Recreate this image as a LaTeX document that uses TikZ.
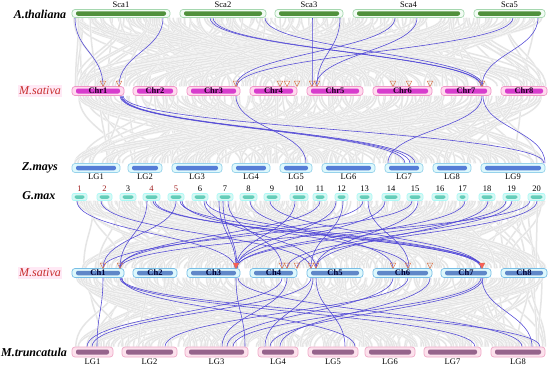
\documentclass[tikz,border=0pt]{standalone}
\usepackage{fontspec}
\setmainfont{Liberation Serif}
\usetikzlibrary{backgrounds}
\definecolor{athgreen}{RGB}{80, 145, 60}
\definecolor{athfill}{RGB}{242, 252, 244}
\definecolor{athedge}{RGB}{165, 215, 175}
\definecolor{msamag}{RGB}{215, 60, 205}
\definecolor{msafill}{RGB}{255, 218, 238}
\definecolor{msaedge}{RGB}{240, 150, 200}
\definecolor{zmblue}{RGB}{85, 125, 215}
\definecolor{cyanfill}{RGB}{222, 248, 252}
\definecolor{cyanedge}{RGB}{150, 210, 235}
\definecolor{gmteal}{RGB}{100, 205, 185}
\definecolor{gmfill}{RGB}{215, 248, 244}
\definecolor{chblue}{RGB}{95, 135, 200}
\definecolor{chedge}{RGB}{120, 190, 230}
\definecolor{mtmauve}{RGB}{150, 100, 140}
\definecolor{mtfill}{RGB}{252, 225, 236}
\definecolor{mtedge}{RGB}{240, 170, 200}
\definecolor{linkblue}{RGB}{80, 70, 215}
\definecolor{markorange}{RGB}{215, 120, 80}
\definecolor{spred}{RGB}{200, 45, 45}
\definecolor{numred}{RGB}{160, 30, 30}
\tikzset{
    chrbox/.style={draw, rectangle, rounded corners=3pt, inner sep=0pt, line width=0.7pt},
    chrbar/.style={rectangle, rounded corners=2pt, inner sep=0pt, minimum height=4.5pt},
    athchr/.style={chrbox, fill=athfill, draw=athedge, minimum height=8pt},
    athbar/.style={chrbar, fill=athgreen},
    msachr/.style={chrbox, fill=msafill, draw=msaedge, minimum height=9pt},
    msabar/.style={chrbar, fill=msamag, minimum height=5pt},
    zmchr/.style={chrbox, fill=cyanfill, draw=cyanedge, minimum height=9pt},
    zmbar/.style={chrbar, fill=zmblue},
    gmchr/.style={chrbox, fill=gmfill, draw=gmfill!80!cyan, minimum height=7pt, rounded corners=2pt},
    gmbar/.style={chrbar, fill=gmteal, minimum height=3.5pt},
    chchr/.style={chrbox, fill=cyanfill, draw=chedge, minimum height=9pt},
    chbar/.style={chrbar, fill=chblue},
    mtchr/.style={chrbox, fill=mtfill, draw=mtedge, minimum height=10pt},
    mtbar/.style={chrbar, fill=mtmauve, minimum height=5pt},
    chrname/.style={font=\fontsize{8.5}{9}\selectfont, text=black, inner sep=1pt},
    inname/.style={font=\fontsize{8.5}{9}\selectfont\bfseries, text=black!75!violet, inner sep=0pt},
    species/.style={font=\fontsize{12}{12}\selectfont\bfseries\itshape, inner sep=1pt},
    msaname/.style={font=\fontsize{12}{12}\selectfont\itshape, text=spred, fill=msafill!60, inner sep=1.5pt},
    synlink/.style={draw=linkblue, line width=0.55pt},
    bglink/.style={draw=white, double=black!10, double distance=1.5pt, line width=0.3pt},
    hit/.style={draw=markorange, line width=0.5pt},
    hitred/.style={draw=markorange, fill=red!65, line width=0.5pt},
}
\newcommand{\synteny}[4]{\draw[synlink] (#2,0 |- #1.south) .. controls +(0,32) and +(0,-32) .. (#4,0 |- #3.north);}
\newcommand{\bgband}[3]{%
    \foreach \i in {1,...,#3} {%
        \pgfmathsetmacro\xa{74+472*rnd}%
        \pgfmathsetmacro\xb{74+472*rnd}%
        \draw[bglink] (\xa,0 |- #1.south) .. controls +(0,32) and +(0,-32) .. (\xb,0 |- #2.north);
    }}
\begin{document}
\begin{tikzpicture}[x=1pt, y=-1pt]
    \useasboundingbox (0,0) rectangle (550,370);

    % species names
    \node[species] (ath) at (40,14) {A.thaliana};
    \node[msaname] (msa-top) at (40,91) {M.sativa};
    \node[species] (zm) at (40,168) {Z.mays};
    \node[species] (gm) at (39,196) {G.max};
    \node[msaname] (msa-bot) at (40,273) {M.sativa};
    \node[species] (mt) at (34,352) {M.truncatula};

    % A.thaliana scaffolds
    \foreach \nm/\xa/\xb/\lab in {sca1/72/170/Sca1, sca2/180/266/Sca2, sca3/275/343/Sca3, sca4/353/464/Sca4, sca5/474/545/Sca5} {
        \pgfmathsetmacro\w{\xb-\xa}
        \node[athchr, minimum width=\w pt, label={[chrname, label distance=0pt]above:\lab}] (\nm) at ({(\xa+\xb)/2},13.5) {};
        \node[athbar, minimum width=\w pt-8pt] (\nm-bar) at (\nm) {};
    }

    % M.sativa chromosomes (top)
    \foreach \nm/\xa/\xb/\lab in {mchr1/72/124/Chr1, mchr2/133/177/Chr2, mchr3/187/240/Chr3, mchr4/250/297/Chr4, mchr5/307/363/Chr5, mchr6/373/432/Chr6, mchr7/441/491/Chr7, mchr8/501/547/Chr8} {
        \pgfmathsetmacro\w{\xb-\xa}
        \node[msachr, minimum width=\w pt] (\nm) at ({(\xa+\xb)/2},91) {};
        \node[msabar, minimum width=\w pt-8pt, label={[inname]center:\lab}] (\nm-bar) at (\nm) {};
    }

    % Z.mays chromosomes
    \foreach \nm/\xa/\xb/\lab in {zlg1/72/120/LG1, zlg2/128/162/LG2, zlg3/172/222/LG3, zlg4/232/270/LG4, zlg5/280/312/LG5, zlg6/322/375/LG6, zlg7/385/423/LG7, zlg8/433/471/LG8, zlg9/481/545/LG9} {
        \pgfmathsetmacro\w{\xb-\xa}
        \node[zmchr, minimum width=\w pt, label={[chrname, label distance=0pt]below:\lab}] (\nm) at ({(\xa+\xb)/2},168) {};
        \node[zmbar, minimum width=\w pt-8pt] (\nm-bar) at (\nm) {};
    }

    % G.max chromosomes
    \foreach \i/\xa/\xb/\col in {1/72/87/numred, 2/97/112/numred, 3/120/136/black, 4/143/160/numred, 5/168/184/numred, 6/192/208/black, 7/217/233/black, 8/240/257/black, 9/264/280/black, 10/290/308/black, 11/313/327/black, 12/335/348/black, 13/357/372/black, 14/382/400/black, 15/407/423/black, 16/432/448/black, 17/457/468/black, 18/479/495/black, 19/503/520/black, 20/528/545/black} {
        \pgfmathsetmacro\w{\xb-\xa}
        \node[gmchr, minimum width=\w pt, label={[chrname, text=\col, label distance=0.5pt]above:\i}] (gm\i) at ({(\xa+\xb)/2},197) {};
        \node[gmbar, minimum width=\w pt-5pt] (gm\i-bar) at (gm\i) {};
    }

    % M.sativa chromosomes (bottom)
    \foreach \nm/\xa/\xb/\lab in {mch1/72/124/Ch1, mch2/133/177/Ch2, mch3/187/240/Ch3, mch4/250/297/Ch4, mch5/307/363/Ch5, mch6/373/432/Ch6, mch7/441/491/Ch7, mch8/501/547/Ch8} {
        \pgfmathsetmacro\w{\xb-\xa}
        \node[chchr, minimum width=\w pt] (\nm) at ({(\xa+\xb)/2},273) {};
        \node[chbar, minimum width=\w pt-8pt, label={[inname, text=black!80!blue]center:\lab}] (\nm-bar) at (\nm) {};
    }

    % M.truncatula chromosomes
    \foreach \nm/\xa/\xb/\lab in {mtlg1/72/113/LG1, mtlg2/122/177/LG2, mtlg3/185/248/LG3, mtlg4/258/298/LG4, mtlg5/308/358/LG5, mtlg6/365/415/LG6, mtlg7/424/481/LG7, mtlg8/491/545/LG8} {
        \pgfmathsetmacro\w{\xb-\xa}
        \node[mtchr, minimum width=\w pt, label={[chrname, label distance=0pt]below:\lab}] (\nm) at ({(\xa+\xb)/2},352) {};
        \node[mtbar, minimum width=\w pt-8pt] (\nm-bar) at (\nm) {};
    }

    % duplicated genes
    \foreach \x in {103,119,236,280,287,297,312,317,393,409,430,482}
        \draw[hit] (\x,86.5) -- ++(-2.8,-5.5) -- ++(5.6,0) -- cycle;
    \foreach \x in {103,120,282,287,297,311,316,393,408,430}
        \draw[hit] (\x,268.5) -- ++(-2.8,-5.5) -- ++(5.6,0) -- cycle;
    \foreach \x in {236,482}
        \draw[hitred] (\x,268.5) -- ++(-2.8,-5.5) -- ++(5.6,0) -- cycle;

    \begin{scope}[on background layer]
        \fill[white] (0,0) rectangle (550,370);
        % collinear blocks (grey)
        \pgfmathsetseed{11}
        \bgband{sca1}{mchr1}{260}
        \bgband{mchr1}{zlg1}{240}
        \bgband{gm1}{mch1}{280}
        \bgband{mch1}{mtlg1}{280}

        % A.thaliana - M.sativa
        \foreach \a/\xa/\b/\xb in {sca1/75/mchr1/103, sca1/163/mchr1/119, sca2/210/mchr7/481, sca2/213/mchr7/482, sca2/265/mchr7/483, sca3/312/mchr5/312, sca3/340/mchr5/317, sca4/417/mchr5/316, sca4/395/mchr3/236, sca5/513/mchr3/237, sca5/538/mchr7/482}
            {\synteny{\a}{\xa}{\b}{\xb}}
        % M.sativa - Z.mays
        \foreach \a/\xa/\b/\xb in {mchr1/120/zlg7/405, mchr1/121/zlg7/410, mchr1/122/zlg7/415, mchr1/123/zlg9/544, mchr3/236/zlg5/306, mchr7/482/zlg7/388, mchr7/483/zlg9/545}
            {\synteny{\a}{\xa}{\b}{\xb}}
        % G.max - M.sativa
        \foreach \a/\xa/\b/\xb in {gm1/77/mch3/235, gm2/101/mch5/311, gm4/147/mch1/120, gm4/153/mch7/481, gm4/155/mch7/482, gm5/176/mch1/103, gm5/180/mch7/483, gm5/182/mch6/408, gm6/204/mch5/316, gm6/206/mch7/482, gm7/219/mch3/236, gm7/223/mch3/237, gm7/228/mch4/282, gm8/250/mch6/393, gm9/270/mch7/481, gm10/295/mch3/236, gm11/320/mch1/120, gm12/336/mch3/237, gm12/343/mch5/311, gm13/363/mch1/119, gm13/368/mch6/409, gm14/385/mch3/236, gm15/412/mch1/103, gm15/418/mch5/316, gm17/465/mch3/237, gm18/488/mch5/316, gm19/506/mch3/236, gm19/512/mch4/287, gm20/530/mch1/120, gm20/537/mch4/297}
            {\synteny{\a}{\xa}{\b}{\xb}}
        % M.sativa - M.truncatula
        \foreach \a/\xa/\b/\xb in {mch1/103/mtlg1/97, mch1/120/mtlg7/475, mch1/121/mtlg8/540, mch1/122/mtlg5/355, mch3/236/mtlg3/245, mch3/238/mtlg8/522, mch4/282/mtlg1/87, mch4/287/mtlg3/222, mch5/311/mtlg1/92, mch5/316/mtlg5/345, mch5/313/mtlg4/265, mch6/393/mtlg3/227, mch6/408/mtlg2/165, mch6/430/mtlg4/280, mch7/481/mtlg3/233, mch7/482/mtlg8/532, mch7/483/mtlg4/270}
            {\synteny{\a}{\xa}{\b}{\xb}}
    \end{scope}
\end{tikzpicture}
\end{document}
